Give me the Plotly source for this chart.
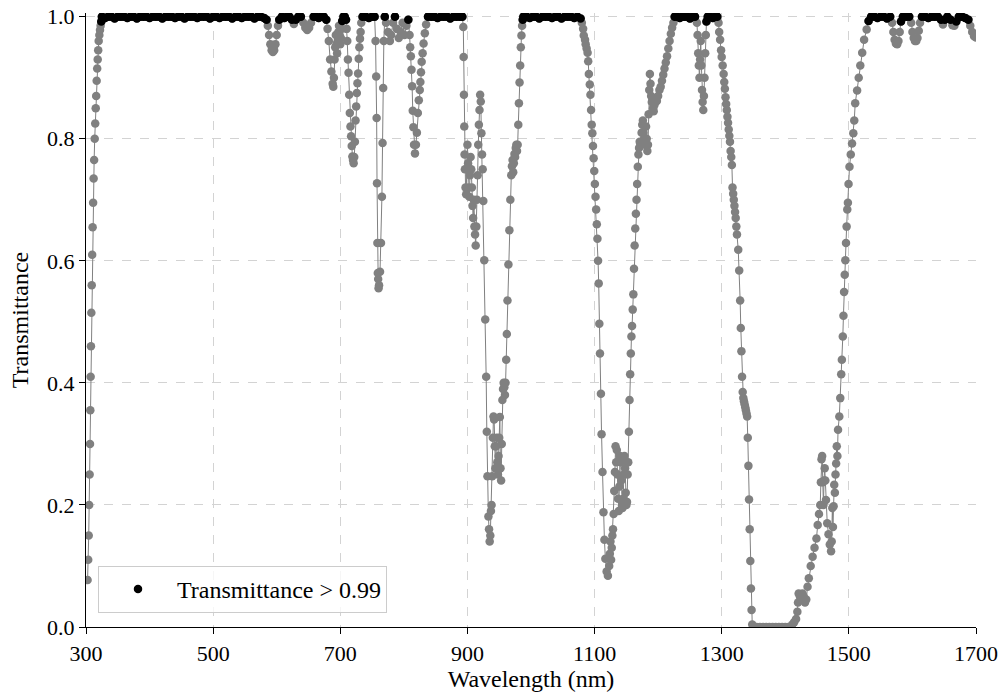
import plotly.graph_objects as go

# ---------------- data ----------------
# UV absorption edge
uv_edge_nm = [302.5, 303.5, 304.3, 305.0, 305.7, 306.3, 306.8, 307.3, 307.8, 308.4,
              309.0, 309.7, 310.4, 311.2, 312.0, 312.8, 313.7, 314.5, 315.3, 316.0,
              316.8, 317.6, 318.4, 319.2, 320.0, 321.0, 322.0, 323.0, 324.0]
uv_edge_t = [0.077, 0.11, 0.15, 0.20, 0.25, 0.30, 0.355, 0.41, 0.46, 0.515,
             0.56, 0.61, 0.655, 0.695, 0.735, 0.765, 0.80, 0.825, 0.85, 0.87,
             0.895, 0.915, 0.93, 0.945, 0.96, 0.97, 0.978, 0.985, 0.992]

# clear visible window
visible_nm = [325, 330, 335, 340, 345, 350, 355, 360, 365, 370, 375, 380, 385, 390,
              395, 400, 405, 410, 415, 420, 425, 430, 435, 440, 445, 450, 455, 460,
              465, 470, 475, 480, 485, 490, 495, 500, 505, 510, 515, 520, 525, 530,
              535, 540, 545, 550, 555, 560, 565, 570, 575, 580]
visible_t = [1.0, 0.998, 1.0, 1.0, 0.997, 1.0, 1.0, 1.0, 0.998, 1.0, 1.0, 0.997, 1.0, 1.0,
             1.0, 0.998, 1.0, 1.0, 1.0, 0.997, 1.0, 1.0, 1.0, 0.998, 1.0, 1.0, 0.997, 1.0,
             1.0, 1.0, 0.998, 1.0, 1.0, 1.0, 0.997, 1.0, 1.0, 0.998, 1.0, 1.0, 1.0, 0.997,
             1.0, 1.0, 0.998, 1.0, 1.0, 1.0, 0.997, 1.0, 1.0, 0.998]

# red / near-IR bands (O2, H2O)
red_nm = [584, 586, 588, 590, 592, 594, 596, 598, 600, 602, 604, 608, 612, 616, 620,
          624, 627, 630, 634, 638, 642, 645, 648, 651, 654, 658, 662, 666, 670, 674,
          678, 680, 682, 684, 686, 688, 689, 690, 691, 692, 693, 694, 695, 696, 697,
          698, 699, 700, 701, 702, 703, 705, 707, 709, 710, 711, 712, 713, 714, 715,
          716, 717, 718, 719, 720, 721, 722, 723, 724, 725, 726, 727, 728, 729, 730,
          731, 732, 733, 735, 740, 745, 750, 754, 755.5, 756.5, 757.2, 757.8, 758.4,
          759.0, 759.6, 760.2, 761.0, 762.5, 764.0, 765.5, 766.5, 767.5, 768.5, 770,
          772, 775, 778, 780, 783, 786, 789, 792, 795, 798, 801, 804, 807, 809, 810,
          811, 812, 813, 814, 815, 816, 817.5, 819, 820.5, 822, 823.5, 825, 826, 827,
          828, 829.5, 831, 833, 835, 838, 843, 848, 853, 858, 863, 868, 873, 878, 883,
          888, 892]
red_t = [0.995, 0.985, 0.97, 0.955, 0.945, 0.942, 0.945, 0.955, 0.97, 0.985, 0.995, 1.0,
         0.998, 1.0, 1.0, 0.995, 0.988, 0.995, 1.0, 1.0, 0.99, 0.982, 0.978, 0.982, 0.99,
         1.0, 1.0, 0.998, 1.0, 1.0, 0.995, 0.98, 0.96, 0.93, 0.91, 0.89, 0.885, 0.90,
         0.93, 0.95, 0.97, 0.955, 0.94, 0.96, 0.975, 0.985, 0.97, 0.955, 0.965, 0.98,
         0.993, 1.0, 1.0, 0.995, 0.98, 0.96, 0.93, 0.908, 0.872, 0.842, 0.82, 0.804,
         0.788, 0.771, 0.765, 0.76, 0.77, 0.795, 0.83, 0.853, 0.875, 0.891, 0.907,
         0.931, 0.95, 0.964, 0.975, 0.99, 1.0, 1.0, 0.998, 1.0, 1.0, 0.96, 0.902, 0.834,
         0.727, 0.629, 0.58, 0.57, 0.555, 0.56, 0.582, 0.629, 0.705, 0.793, 0.883, 0.96,
         1.0, 0.99, 0.975, 0.96, 0.97, 0.99, 1.0, 0.98, 0.965, 0.975, 0.99, 0.97, 0.985,
         0.995, 0.97, 0.95, 0.935, 0.913, 0.886, 0.846, 0.819, 0.79, 0.776, 0.79, 0.81,
         0.842, 0.863, 0.88, 0.893, 0.909, 0.926, 0.94, 0.956, 0.973, 0.987, 1.0, 1.0,
         1.0, 0.998, 1.0, 1.0, 1.0, 0.997, 1.0, 1.0, 1.0, 1.0]

# 940 nm water band
water940_nm = [893.5, 894, 894.5, 895, 895.5, 896, 897, 898, 899, 900, 901, 902, 903,
               904, 905, 906, 907, 908, 909, 910, 911, 912, 913, 914, 915, 916, 917,
               918, 919, 920, 921, 922, 923, 924, 925, 926.5, 928, 929.5, 930.5, 931.5,
               933, 934, 935, 936, 937, 938, 939, 940, 941, 942, 943, 944, 945, 946,
               947, 948, 949, 950, 951, 952, 953, 954, 955, 956, 957, 958, 959, 960,
               961, 962, 963, 964.5, 966, 967.5, 969, 970, 971, 972, 973, 974, 975,
               976, 977, 978, 979, 980, 981, 982, 983, 984, 985, 986, 987]
water940_t = [0.983, 0.934, 0.872, 0.82, 0.774, 0.75, 0.72, 0.709, 0.75, 0.79, 0.76,
              0.72, 0.705, 0.74, 0.77, 0.75, 0.72, 0.69, 0.67, 0.70, 0.656, 0.643, 0.625,
              0.656, 0.70, 0.74, 0.79, 0.823, 0.847, 0.872, 0.861, 0.809, 0.774, 0.75,
              0.698, 0.601, 0.504, 0.41, 0.32, 0.247, 0.181, 0.16, 0.14, 0.15, 0.19, 0.20,
              0.247, 0.31, 0.345, 0.34, 0.296, 0.26, 0.296, 0.31, 0.27, 0.25, 0.28, 0.31,
              0.344, 0.26, 0.24, 0.30, 0.372, 0.39, 0.40, 0.393, 0.38, 0.40, 0.438, 0.48,
              0.535, 0.594, 0.65, 0.70, 0.74, 0.755, 0.765, 0.745, 0.76, 0.775, 0.77,
              0.785, 0.79, 0.78, 0.79, 0.823, 0.858, 0.892, 0.92, 0.95, 0.969, 0.985,
              0.995]

# 1000-1080 nm window
window1000_nm = [988, 993, 998, 1003, 1008, 1013, 1018, 1023, 1028, 1033, 1038, 1043,
                 1048, 1053, 1058, 1063, 1068, 1073, 1078]
window1000_t = [1.0, 1.0, 0.998, 1.0, 1.0, 0.997, 1.0, 1.0, 1.0, 0.998, 1.0, 1.0,
                0.997, 1.0, 1.0, 1.0, 0.998, 1.0, 0.997]

# 1130 nm water band
water1130_nm = [1080, 1082, 1083, 1085, 1086, 1087.5, 1089, 1090, 1091, 1092.5, 1093.5,
                1094.5, 1095.5, 1096.5, 1097.5, 1098.5, 1099.5, 1100.5, 1101.5, 1102.5,
                1103.5, 1104.5, 1105.5, 1106.5, 1107.5, 1108.5, 1110, 1111, 1112.5, 1114,
                1115.5, 1117, 1119, 1121, 1123, 1124, 1125, 1126, 1127, 1128, 1129, 1130,
                1131, 1132, 1133, 1134, 1135, 1136, 1137, 1138, 1139, 1140, 1141, 1142,
                1143, 1144, 1145, 1146, 1147, 1148, 1149, 1150, 1151, 1152, 1153, 1154,
                1155, 1156, 1157, 1158, 1159, 1160, 1161, 1162, 1163, 1164, 1165, 1166,
                1167, 1168, 1169, 1170, 1171, 1172, 1174, 1175, 1176, 1177, 1178, 1179,
                1180, 1181, 1182, 1183, 1184, 1185, 1186, 1187, 1188, 1189, 1190, 1191,
                1192, 1193, 1194, 1196, 1198, 1200, 1202, 1204, 1206, 1208, 1210, 1212,
                1214, 1216, 1218, 1220, 1222, 1224]
water1130_t = [0.99, 0.98, 0.969, 0.962, 0.955, 0.948, 0.941, 0.927, 0.906, 0.889, 0.872,
               0.847, 0.823, 0.809, 0.788, 0.768, 0.747, 0.726, 0.705, 0.684, 0.66, 0.636,
               0.60, 0.563, 0.497, 0.448, 0.382, 0.316, 0.254, 0.188, 0.143, 0.112, 0.091,
               0.084, 0.10, 0.12, 0.14, 0.11, 0.13, 0.15, 0.16, 0.185, 0.223, 0.254, 0.296,
               0.27, 0.29, 0.25, 0.21, 0.19, 0.23, 0.28, 0.27, 0.24, 0.20, 0.195, 0.21,
               0.25, 0.28, 0.26, 0.22, 0.20, 0.205, 0.25, 0.27, 0.32, 0.372, 0.414, 0.448,
               0.476, 0.493, 0.52, 0.545, 0.587, 0.625, 0.653, 0.677, 0.70, 0.726, 0.754,
               0.774, 0.785, 0.795, 0.79, 0.81, 0.823, 0.83, 0.81, 0.80, 0.79, 0.80, 0.82,
               0.80, 0.78, 0.79, 0.84, 0.88, 0.906, 0.89, 0.87, 0.86, 0.865, 0.85, 0.845,
               0.855, 0.86, 0.862, 0.87, 0.88, 0.885, 0.895, 0.905, 0.915, 0.925, 0.935,
               0.948, 0.96, 0.972, 0.982, 0.99]

# 1230-1295 nm window with 1270 nm O2 band
window1250_nm = [1226, 1230, 1234, 1238, 1242, 1246, 1250, 1254, 1258, 1261, 1262, 1263,
                 1264, 1265, 1266, 1267, 1268, 1269, 1270, 1271, 1272, 1273, 1274, 1275,
                 1276, 1278, 1282, 1286, 1290, 1293]
window1250_t = [1.0, 1.0, 0.998, 1.0, 1.0, 1.0, 0.997, 1.0, 1.0, 0.99, 0.97, 0.94, 0.92,
                0.90, 0.93, 0.96, 0.92, 0.88, 0.86, 0.847, 0.87, 0.90, 0.94, 0.97, 0.992,
                1.0, 1.0, 0.998, 1.0, 1.0]

# 1380 nm water band
water1380_nm = [1295, 1296, 1297.5, 1299, 1300, 1301.5, 1303, 1304, 1305, 1306, 1307,
                1308, 1309, 1310, 1311, 1312, 1313, 1314, 1315, 1316, 1317, 1318, 1319,
                1320, 1321, 1322, 1323, 1324, 1326, 1327.5, 1329, 1330, 1331, 1332, 1333,
                1334, 1335, 1336, 1337, 1338, 1339, 1340, 1341, 1342, 1343, 1344, 1345,
                1346, 1347, 1348, 1350, 1355, 1360, 1365, 1370, 1375, 1380, 1385, 1390,
                1395, 1400, 1405, 1408, 1411, 1414, 1417, 1419, 1420, 1421, 1423, 1425,
                1427, 1429, 1431, 1433, 1435, 1437, 1440, 1443, 1446, 1449, 1451, 1453,
                1455, 1456, 1457, 1458, 1459, 1460, 1461, 1462, 1463, 1464, 1466, 1468,
                1470, 1472, 1473, 1474, 1475, 1476, 1477, 1478, 1479, 1480, 1481, 1482,
                1483, 1485, 1486.5, 1488, 1489, 1490.5, 1491.5, 1492.5, 1493.5, 1494.5,
                1495.5, 1496.5, 1497.5, 1498.5, 1499.5, 1501, 1503, 1505, 1507, 1508.5,
                1510, 1513, 1515.5, 1518, 1521, 1524, 1528, 1531]
water1380_t = [0.99, 0.975, 0.962, 0.945, 0.934, 0.92, 0.906, 0.893, 0.882, 0.868, 0.857,
               0.847, 0.836, 0.826, 0.815, 0.805, 0.795, 0.78, 0.77, 0.757, 0.72, 0.71,
               0.70, 0.69, 0.68, 0.67, 0.656, 0.643, 0.618, 0.584, 0.535, 0.49, 0.452,
               0.41, 0.385, 0.375, 0.37, 0.365, 0.36, 0.355, 0.35, 0.345, 0.31, 0.264,
               0.209, 0.16, 0.108, 0.063, 0.028, 0.004, 0.0, 0.0, 0.0, 0.0, 0.0, 0.0, 0.0,
               0.0, 0.0, 0.0, 0.0, 0.0, 0.0, 0.004, 0.008, 0.013, 0.025, 0.04, 0.055, 0.05,
               0.045, 0.055, 0.05, 0.04, 0.045, 0.066, 0.08, 0.10, 0.115, 0.13, 0.145,
               0.167, 0.185, 0.20, 0.237, 0.275, 0.28, 0.237, 0.20, 0.24, 0.26, 0.24,
               0.208, 0.17, 0.152, 0.135, 0.124, 0.14, 0.195, 0.164, 0.198, 0.233, 0.22,
               0.25, 0.268, 0.296, 0.28, 0.323, 0.345, 0.375, 0.414, 0.438, 0.476, 0.51,
               0.549, 0.577, 0.601, 0.629, 0.656, 0.684, 0.695, 0.726, 0.754, 0.774,
               0.792, 0.809, 0.83, 0.858, 0.879, 0.90, 0.92, 0.941, 0.962, 0.979, 0.993]

# SWIR window
swir_nm = [1535, 1540, 1545, 1550, 1555, 1560, 1565, 1568, 1570, 1572, 1574, 1576, 1578,
           1580, 1582, 1585, 1590, 1595, 1598, 1600, 1602, 1604, 1606, 1608, 1610, 1612,
           1615, 1620, 1625, 1630, 1635, 1640, 1645, 1648, 1651, 1655, 1660, 1663, 1666,
           1669, 1673, 1678, 1683, 1688, 1691, 1694, 1697, 1700]
swir_t = [1.0, 1.0, 0.998, 1.0, 1.0, 0.997, 1.0, 0.99, 0.975, 0.962, 0.956, 0.955, 0.96,
          0.975, 0.992, 1.0, 1.0, 1.0, 0.99, 0.975, 0.965, 0.96, 0.96, 0.965, 0.977, 0.99,
          1.0, 1.0, 0.998, 1.0, 1.0, 1.0, 0.995, 0.987, 0.995, 1.0, 0.995, 0.986, 0.985,
          0.992, 1.0, 1.0, 0.998, 0.995, 0.985, 0.975, 0.968, 0.966]

x_ticks = [300, 500, 700, 900, 1100, 1300, 1500, 1700]
y_ticks = [0.0, 0.2, 0.4, 0.6, 0.8, 1.0]
threshold = 0.99
legend_label = "Transmittance > 0.99"

# ---------------- assemble ----------------
wavelength = (uv_edge_nm + visible_nm + red_nm + water940_nm + window1000_nm +
              water1130_nm + window1250_nm + water1380_nm + swir_nm)
transmittance = (uv_edge_t + visible_t + red_t + water940_t + window1000_t +
                 water1130_t + window1250_t + water1380_t + swir_t)

high_x = [w for w, t in zip(wavelength, transmittance) if t > threshold]
high_y = [t for t in transmittance if t > threshold]

FONT = "Liberation Serif, Times New Roman, serif"

fig = go.Figure()
fig.add_trace(go.Scatter(
    x=wavelength, y=transmittance, mode="lines+markers",
    line=dict(color="#808080", width=1),
    marker=dict(color="#808080", size=8.5, line=dict(width=0)),
    showlegend=False, hoverinfo="x+y"))
fig.add_trace(go.Scatter(
    x=high_x, y=high_y, mode="markers", name=legend_label,
    marker=dict(color="black", size=8.5, line=dict(width=0))))

fig.update_layout(
    width=1003, height=695,
    margin=dict(l=86, r=27, t=13, b=68),
    plot_bgcolor="white", paper_bgcolor="white",
    font=dict(family=FONT, size=22, color="black"),
    legend=dict(x=0.0135, y=0.023, xanchor="left", yanchor="bottom",
                bgcolor="rgba(255,255,255,0.8)", bordercolor="#cccccc", borderwidth=1,
                font=dict(family=FONT, size=24, color="black"),
                itemwidth=68),
    xaxis=dict(range=[300, 1700], tickvals=x_ticks, ticktext=[str(v) for v in x_ticks],
               showgrid=True, gridcolor="#d3d3d3", griddash="dash", gridwidth=1,
               showline=True, linecolor="black", linewidth=1.3, mirror=False,
               ticks="outside", ticklen=6, tickwidth=1.3, tickcolor="black",
               zeroline=False, automargin=False, ticklabeloverflow="allow",
               tickfont=dict(family=FONT, size=22, color="black"),
               title=dict(text="Wavelength (nm)", font=dict(family=FONT, size=24),
                          standoff=4)),
    yaxis=dict(range=[0, 1.006], tickvals=y_ticks, ticktext=[f"{v:.1f}" for v in y_ticks],
               showgrid=True, gridcolor="#d3d3d3", griddash="dash", gridwidth=1,
               showline=True, linecolor="black", linewidth=1.3, mirror=False,
               ticks="outside", ticklen=6, tickwidth=1.3, tickcolor="black",
               zeroline=False, automargin=False, ticklabeloverflow="allow",
               tickfont=dict(family=FONT, size=22, color="black"),
               title=dict(text="Transmittance", font=dict(family=FONT, size=24),
                          standoff=11)),
)

# remove the browser's default 8px body margin so the figure fills the window
fig.write_html("out.html", config={"displayModeBar": False},
               post_script="document.body.style.margin='0';")
